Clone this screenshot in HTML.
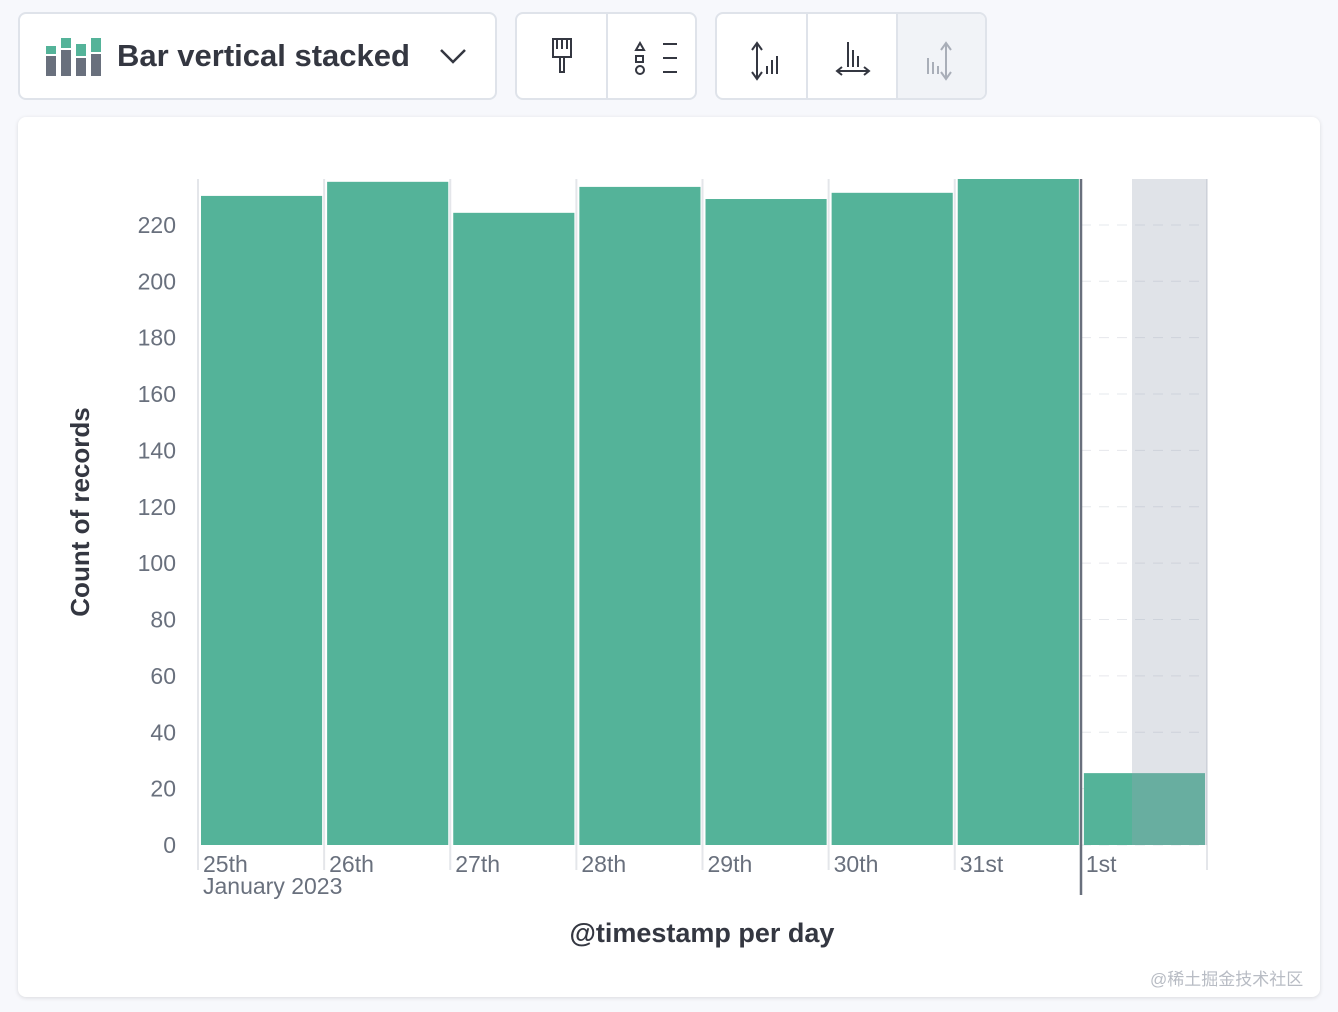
<!DOCTYPE html>
<html><head><meta charset="utf-8"><style>
body{margin:0;width:1338px;height:1012px;background:#f7f8fc;font-family:"Liberation Sans",sans-serif;position:relative;overflow:hidden}
.box{position:absolute;background:#fff;border:2px solid #dfe3ea;border-radius:8px;box-sizing:border-box;overflow:hidden}
.seg{position:absolute;top:0;height:100%;border-left:2px solid #dfe3ea;box-sizing:border-box}
</style></head><body>
<div class="box" style="left:18px;top:12px;width:479px;height:88px">
<svg style="position:absolute;left:26px;top:22px" width="56" height="40">
<rect x="0" y="20" width="10" height="20" fill="#69707d"/><rect x="0" y="10" width="10" height="8" fill="#54b399"/>
<rect x="15" y="14" width="10" height="26" fill="#69707d"/><rect x="15" y="2" width="10" height="10" fill="#54b399"/>
<rect x="30" y="22" width="10" height="18" fill="#69707d"/><rect x="30" y="8" width="10" height="12" fill="#54b399"/>
<rect x="45" y="18" width="10" height="22" fill="#69707d"/><rect x="45" y="2" width="10" height="14" fill="#54b399"/></svg>
<div style="position:absolute;left:97px;top:24px;font-size:31px;font-weight:bold;color:#343741">Bar vertical stacked</div>
<svg style="position:absolute;left:418px;top:32px" width="30" height="20"><path d="M3 4 L15 16 L27 4" stroke="#343741" stroke-width="2.5" fill="none"/></svg>
</div>
<div class="box" style="left:515px;top:12px;width:182px;height:88px">
<div style="position:absolute;left:0;top:0;width:89px;height:100%"><svg width="89" height="84"><path d="M36 25h18v18h-18z M40 25v10 M45 25v10 M50 25v10 M43 43v15h4v-15" stroke="#343741" stroke-width="2" fill="none"/></svg></div>
<div class="seg" style="left:89px;width:91px"><svg width="89" height="84"><path d="M28 36l4-7 4 7z M28 48h7v-6h-7z M55 30h14 M55 44h14 M55 58h14" stroke="#343741" stroke-width="2" fill="none"/><circle cx="32" cy="56" r="4" stroke="#343741" stroke-width="2" fill="none"/></svg></div>
</div>
<div class="box" style="left:715px;top:12px;width:272px;height:88px">
<div style="position:absolute;left:0;top:0;width:89px;height:100%"><svg width="89" height="84"><path d="M40 30v34 M35 36l5-7 5 7 M35 58l5 7 5-7 M50 52v8 M55 46v14 M60 42v18" stroke="#343741" stroke-width="2" fill="none"/></svg></div>
<div class="seg" style="left:89px;width:90px"><svg width="89" height="84"><path d="M40 28v25 M45 36v17 M50 42v11 M30 57h30 M34 53l-5 4 5 4 M56 53l5 4-5 4" stroke="#343741" stroke-width="2" fill="none"/></svg></div>
<div class="seg" style="left:179px;width:89px;background:#f1f3f7"><svg width="89" height="84"><path d="M48 30v34 M43 36l5-7 5 7 M43 58l5 7 5-7 M30 44v16 M35 48v12 M40 52v8" stroke="#a9aeb8" stroke-width="2" fill="none"/></svg></div>
</div>
<div class="box" style="left:18px;top:117px;width:1302px;height:880px;border:none;box-shadow:0 1px 4px rgba(0,0,0,.12)"></div>
<svg id="chart" style="position:absolute;left:0;top:0" width="1338" height="1012"></svg>
<div style="position:absolute;left:1150px;top:965px;font-size:17px;color:#b8bcc4;font-family:'Liberation Sans','Noto Sans CJK SC',sans-serif">@稀土掘金技术社区</div>
<script>
const categories=["25th","26th","27th","28th","29th","30th","31st","1st"];
const counts=[230.3,235.3,224.3,233.5,229.2,231.4,236.3,25.5];
const yTicks=[0,20,40,60,80,100,120,140,160,180,200,220];
const yMax=236.3;
const svg=document.getElementById('chart');const NS='http://www.w3.org/2000/svg';
const x0=198,x1=1207,y0=845,yTop=179,slot=(x1-x0)/categories.length;
const y=v=>y0-(v/yMax)*(y0-yTop);
function el(t,a,p){const e=document.createElementNS(NS,t);for(const k in a)e.setAttribute(k,a[k]);(p||svg).appendChild(e);return e;}
yTicks.forEach(t=>{
 const g=el('line',{x1:1081,x2:1207,y1:y(t),y2:y(t),stroke:'#e6e8ec','stroke-dasharray':'10 8'});
 
 
 const tx=el('text',{x:176,y:y(t)+8,'text-anchor':'end','font-size':23,fill:'#69707d'});tx.textContent=t;
 
 
});
for(let i=0;i<=categories.length;i++){
 const l=el('line',{x1:x0+i*slot,x2:x0+i*slot,y1:yTop,y2:870,stroke:'#e4e6ea','stroke-width':2});
 
 
}
categories.forEach((c,i)=>{
 const b=el('rect',{x:x0+i*slot+3,y:y(counts[i]),width:slot-5,height:y0-y(counts[i]),fill:'#54b399'});
 
 
 const t=el('text',{x:x0+i*slot+5,y:872,'font-size':23,fill:'#69707d'});t.textContent=c;
 
 
});
const sh=el('rect',{x:1132,y:yTop,width:75,height:y0-yTop,fill:'#98a2b3','fill-opacity':0.3});


const m=el('line',{x1:1081,x2:1081,y1:yTop,y2:895,stroke:'#69707d','stroke-width':2.5});


const ym=el('text',{x:203,y:894,'font-size':23,fill:'#69707d'});ym.textContent='January 2023';


const xt=el('text',{x:702,y:942,'text-anchor':'middle','font-size':27,'font-weight':'bold',fill:'#343741'});xt.textContent='@timestamp per day';


const yt=el('text',{x:0,y:0,'text-anchor':'middle','font-size':26,'font-weight':'bold',fill:'#343741',transform:'translate(89,512) rotate(-90)'});yt.textContent='Count of records';


</script>
</body></html>
